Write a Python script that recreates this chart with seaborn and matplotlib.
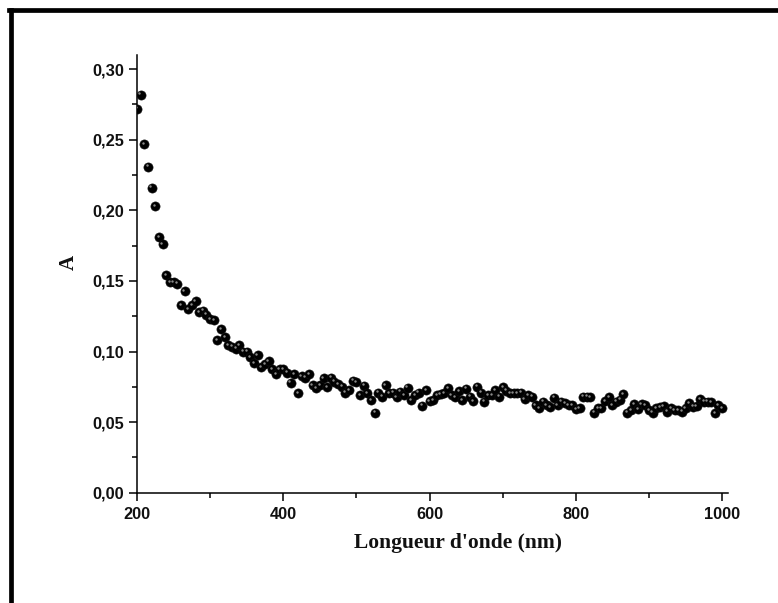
import numpy as np
import pandas as pd
import matplotlib
matplotlib.use("Agg")
import matplotlib.pyplot as plt
import matplotlib.ticker as mticker
from matplotlib.lines import Line2D
from matplotlib.transforms import offset_copy
import seaborn as sns

# ---------------- data ----------------
wavelength_start = 200
wavelength_step = 5
absorbance = [
    0.272, 0.282, 0.247, 0.231, 0.216, 0.203, 0.181, 0.176, 0.154, 0.149,   # 200-245
    0.149, 0.148, 0.133, 0.1425, 0.130, 0.133, 0.1355, 0.128, 0.129, 0.126,  # 250-295
    0.123, 0.122, 0.108, 0.1157, 0.110, 0.1044, 0.1034, 0.102, 0.1046, 0.100, # 300-345
    0.100, 0.096, 0.0916, 0.0975, 0.0888, 0.091, 0.0932, 0.0876, 0.0838, 0.0873,  # 350-395
    0.0873, 0.085, 0.078, 0.084, 0.0704, 0.0826, 0.0814, 0.084, 0.0763, 0.0739,  # 400-445
    0.0763, 0.081, 0.0746, 0.0815, 0.0786, 0.0767, 0.0751, 0.0708, 0.0727, 0.0793,  # 450-495
    0.0784, 0.0692, 0.0758, 0.0704, 0.0654, 0.0566, 0.0708, 0.068, 0.0763, 0.0704,  # 500-545
    0.0708, 0.0675, 0.0715, 0.0692, 0.0744, 0.0654, 0.0692, 0.0708, 0.0616, 0.0727,  # 550-595
    0.065, 0.0656, 0.0692, 0.0697, 0.0704, 0.0739, 0.0692, 0.0675, 0.072, 0.0656,   # 600-645
    0.0736, 0.068, 0.065, 0.0751, 0.0708, 0.0644, 0.0692, 0.0692, 0.0727, 0.068,    # 650-695
    0.0746, 0.0722, 0.0704, 0.0704, 0.0704, 0.0708, 0.0664, 0.0692, 0.068, 0.0621,  # 700-745
    0.0598, 0.0644, 0.0621, 0.0605, 0.0673, 0.0621, 0.0644, 0.0632, 0.0621, 0.0621, # 750-795
    0.059, 0.060, 0.068, 0.068, 0.0675, 0.0566, 0.0598, 0.0598, 0.065, 0.0675,     # 800-845
    0.0621, 0.0644, 0.066, 0.0699, 0.0566, 0.0586, 0.0628, 0.059, 0.0628, 0.0621,  # 850-895
    0.0586, 0.0566, 0.0598, 0.0605, 0.0614, 0.0574, 0.0598, 0.0586, 0.0586, 0.0574, # 900-945
    0.060, 0.0633, 0.0609, 0.0614, 0.0661, 0.0644, 0.0644, 0.064, 0.0562, 0.0621,  # 950-995
    0.0598,                                                                      # 1000
]
wavelength = [wavelength_start + wavelength_step * i for i in range(len(absorbance))]

x_major_ticks = [200, 400, 600, 800, 1000]
y_major_ticks = [0.00, 0.05, 0.10, 0.15, 0.20, 0.25, 0.30]
x_label = "Longueur d'onde (nm)"
y_label = "A"

df = pd.DataFrame({"wavelength": wavelength, "A": absorbance})

# ---------------- style ----------------
sns.set_theme(style="white")
plt.rcParams["font.family"] = ["Liberation Sans", "DejaVu Sans"]

fig = plt.figure(figsize=(7.78, 6.03), dpi=100)
ax = fig.add_axes([137 / 778, 1 - 492.7 / 603, (728 - 137) / 778, (492.7 - 55) / 603])

sns.scatterplot(data=df, x="wavelength", y="A", ax=ax, color="black",
                s=44, edgecolor="#111111", linewidth=0.4, zorder=3, legend=False)
# small highlight to mimic shaded spheres
hl = offset_copy(ax.transData, fig=fig, x=-1.2, y=1.4, units="dots")
sns.scatterplot(data=df, x="wavelength", y="A", ax=ax, color="#8a8a8a",
                s=3, linewidth=0, transform=hl, zorder=4, legend=False)

ax.set_xlim(200, 1008)
ax.set_ylim(0, 0.31)

for side in ["top", "right"]:
    ax.spines[side].set_visible(False)
for side in ["left", "bottom"]:
    ax.spines[side].set_visible(True)
    ax.spines[side].set_color("black")
    ax.spines[side].set_linewidth(1.1)

ax.xaxis.set_major_locator(mticker.FixedLocator(x_major_ticks))
ax.xaxis.set_minor_locator(mticker.MultipleLocator(100))
ax.yaxis.set_major_locator(mticker.FixedLocator(y_major_ticks))
ax.yaxis.set_minor_locator(mticker.MultipleLocator(0.025))
ax.yaxis.set_major_formatter(mticker.FuncFormatter(lambda v, p: f"{v:.2f}".replace(".", ",")))
ax.xaxis.set_major_formatter(mticker.FuncFormatter(lambda v, p: f"{int(round(v))}"))

ax.tick_params(which="major", direction="out", length=6, width=1.1, color="black",
               labelsize=11.8, labelcolor="#111111")
ax.tick_params(which="minor", direction="out", length=3.5, width=1.1, color="black")
ax.tick_params(axis="x", which="major", pad=4.5)
ax.tick_params(axis="y", which="major", pad=3.5)
ax.tick_params(which="both", bottom=True, left=True, top=False, right=False)
for lab in ax.get_xticklabels() + ax.get_yticklabels():
    lab.set_fontweight("bold")

ax.set_xlabel(x_label, family=["Liberation Serif", "DejaVu Serif"], fontweight="bold",
              fontsize=15.5, color="#111111")
ax.set_ylabel(y_label, family=["Liberation Serif", "DejaVu Serif"], fontweight="bold",
              fontsize=15, color="#111111")
ax.xaxis.set_label_coords(0.543, -0.093)
ax.yaxis.set_label_coords(-0.098, 0.525)

# figure frame (top and left edges only, as in the cropped reference)
fig.add_artist(Line2D([9 / 778, 1.0], [1 - 9.5 / 603, 1 - 9.5 / 603], transform=fig.transFigure,
                      color="black", linewidth=3.4, solid_capstyle="projecting"))
fig.add_artist(Line2D([11 / 778, 11 / 778], [1 - 9.5 / 603, 0.0], transform=fig.transFigure,
                      color="black", linewidth=3.4, solid_capstyle="projecting"))

fig.savefig("out.png", dpi=100, facecolor="white")
